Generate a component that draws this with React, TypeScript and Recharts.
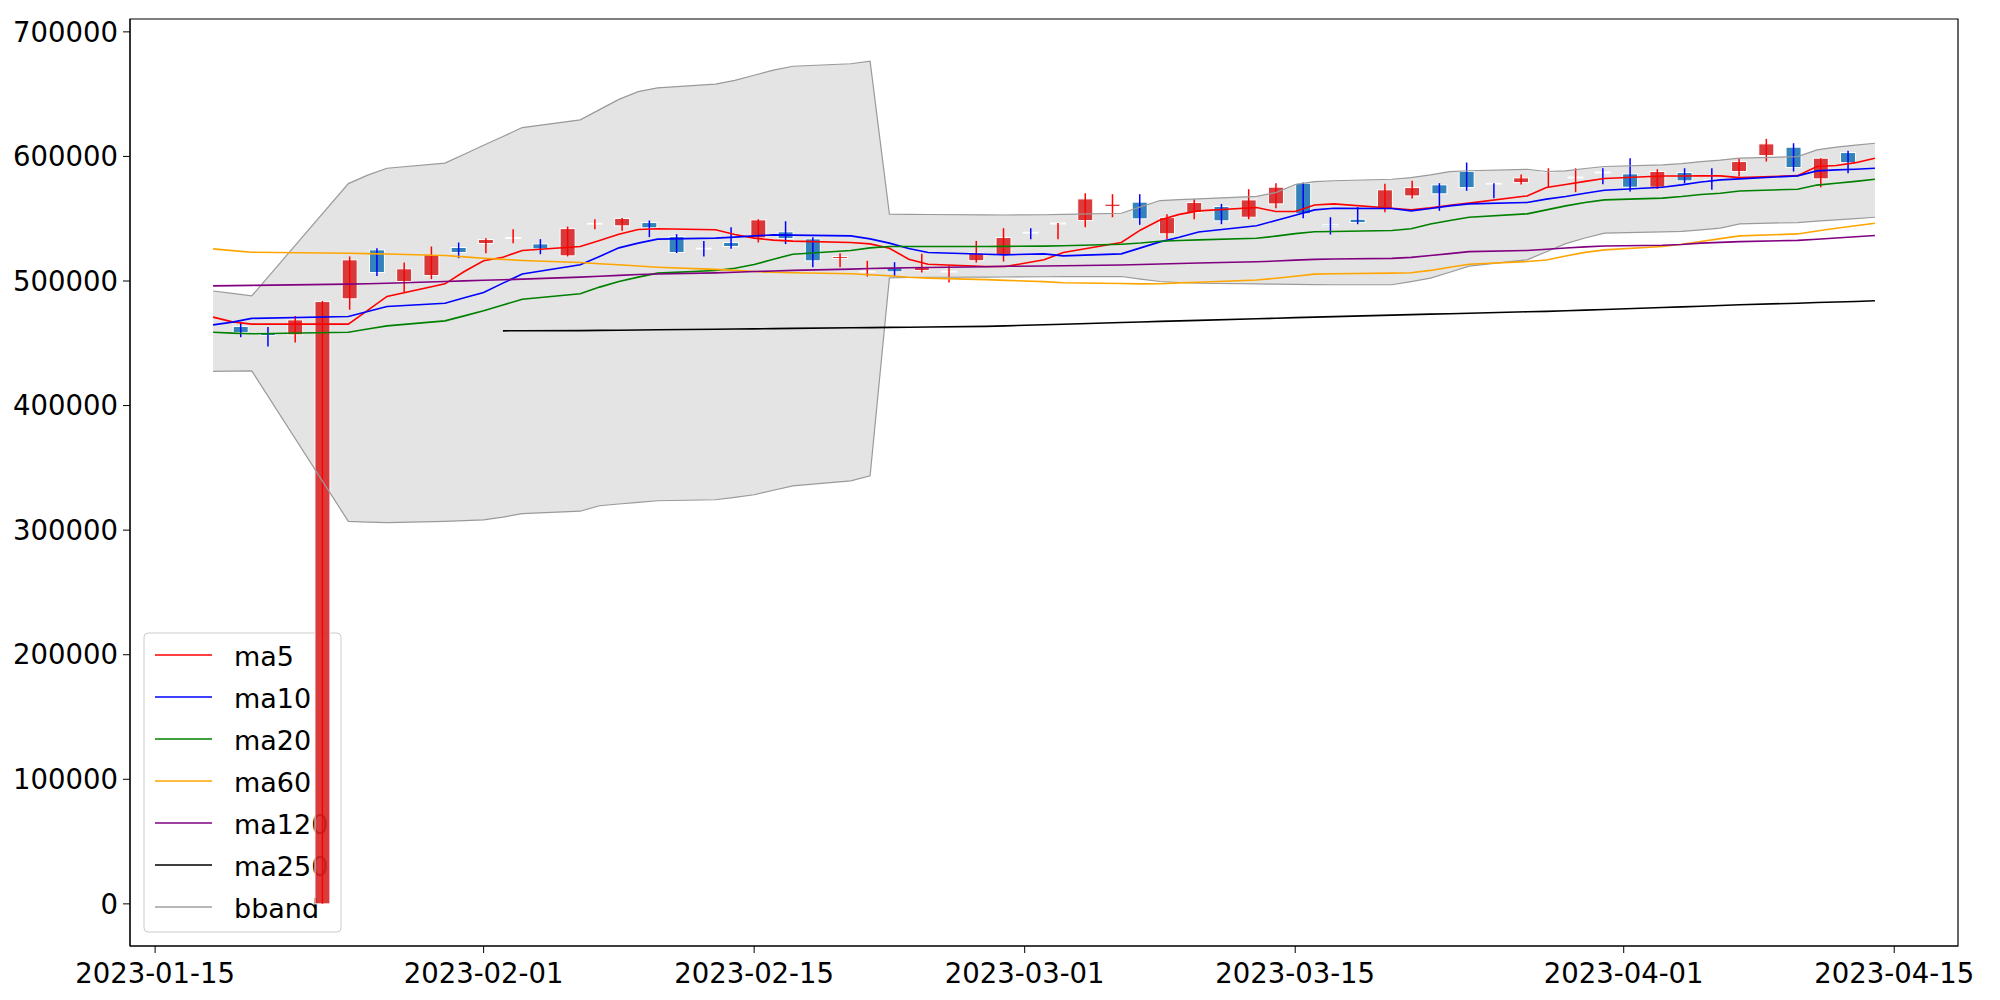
import React from "react";
import { ComposedChart, Line, Area, Bar, XAxis, YAxis, Customized, ReferenceArea } from "recharts";

// trading days (KRX calendar, Seollal + Mar 1 closed)
const tradeDates = [
  "2023-01-18", "2023-01-19", "2023-01-20", "2023-01-25", "2023-01-26", "2023-01-27", "2023-01-30", "2023-01-31",
  "2023-02-01", "2023-02-02", "2023-02-03", "2023-02-06", "2023-02-07", "2023-02-08", "2023-02-09", "2023-02-10",
  "2023-02-13", "2023-02-14", "2023-02-15", "2023-02-16", "2023-02-17", "2023-02-20", "2023-02-21", "2023-02-22",
  "2023-02-23", "2023-02-24", "2023-02-27", "2023-02-28", "2023-03-02", "2023-03-03", "2023-03-06", "2023-03-07",
  "2023-03-08", "2023-03-09", "2023-03-10", "2023-03-13", "2023-03-14", "2023-03-15", "2023-03-16", "2023-03-17",
  "2023-03-20", "2023-03-21", "2023-03-22", "2023-03-23", "2023-03-24", "2023-03-27", "2023-03-28", "2023-03-29",
  "2023-03-30", "2023-03-31", "2023-04-03", "2023-04-04", "2023-04-05", "2023-04-06", "2023-04-07", "2023-04-10",
  "2023-04-11", "2023-04-12", "2023-04-13", "2023-04-14",
];

const opens = [
  463500, 458100, 456800, 0, 485700, 525000, 499600, 504400, 526900, 530100, 534300, 529800, 520200, 545800, 544300,
  546900, 535700, 526300, 530900, 534600, 539500, 533800, 518100, 507400, 510600, 508400, 507400, 516300, 520500,
  539100, 546200, 548500, 559800, 563300, 537900, 555000, 559800, 551200, 561900, 578500, 545300, 549600, 558200,
  568300, 577200, 587900, 578400, 579000, 587900, 583100, 587500, 586000, 575300, 587100, 581400, 587900, 600700,
  607400, 582000, 603100,
];
const highs = [
  466700, 463000, 472000, 484000, 519700, 526300, 514800, 527700, 530900, 534400, 541600, 533600, 543700, 549600, 550500,
  548600, 537600, 532200, 543200, 549600, 548000, 535200, 522300, 516200, 515100, 521800, 512200, 532200, 542400,
  542400, 546600, 570500, 569700, 569700, 553600, 565700, 561900, 573700, 578500, 579000, 551200, 559300, 578000,
  580400, 578500, 595100, 578400, 585500, 590500, 590500, 590500, 598600, 589700, 590500, 590500, 598600, 614100,
  610600, 598600, 604600,
];
const lows = [
  454900, 447500, 450700, 0, 476900, 504100, 490800, 501500, 518300, 522300, 530400, 521500, 519700, 541600, 540300,
  535200, 522500, 519700, 525800, 530900, 529600, 511100, 511100, 503600, 503600, 506800, 498800, 514800, 515600,
  533600, 533600, 543200, 551200, 545100, 533800, 549600, 545600, 549600, 558400, 550400, 537300, 545600, 555200,
  566200, 556300, 572400, 566500, 577400, 575300, 571300, 577700, 571800, 573900, 578500, 573200, 583900, 595900,
  587900, 575300, 586500,
];
const closes = [
  458700, 456200, 468800, 483500, 517000, 506800, 509800, 521000, 522900, 533300, 534900, 525800, 542100, 546300, 550200,
  542700, 522900, 526000, 527700, 549100, 534100, 516200, 519700, 507800, 507400, 510800, 507800, 522400, 534900,
  538700, 546600, 565900, 561700, 549900, 550900, 563000, 548300, 565100, 575300, 553900, 544300, 546900, 573200,
  575000, 570000, 575000, 578000, 582800, 588300, 583500, 587100, 575300, 587900, 580400, 581000, 595900, 610100,
  591100, 598600, 595000,
];

const ma5 = [
  471000, 467200, 465400, 465400, 476500, 487600, 497700, 507600, 516200, 519100, 524500, 527700, 532500, 537600, 541400,
  541900, 541100, 537300, 534400, 532800, 532000, 530900, 529800, 526300, 517500, 513500, 511600, 511600, 517000,
  522900, 530900, 541000, 549000, 553500, 556300, 559000, 555800, 555800, 561000, 561900, 558400, 557100, 558700,
  560800, 562500, 568300, 575000, 577500, 580000, 582300, 584300, 584300, 584400, 584400, 583000, 584600, 591900,
  592700, 595000, 598600,
];
const ma10 = [
  464800, 467000, 470000, 471500, 475500, 479500, 482200, 486500, 490800, 498300, 505600, 513000, 519700, 526600, 530400,
  533600, 534400, 535200, 536200, 537000, 536800, 536200, 533800, 530400, 526100, 522900, 521500, 521000, 521800,
  520200, 521800, 526600, 531400, 535200, 539400, 544300, 548600, 552800, 557100, 558400, 558200, 556300, 558200,
  560300, 561900, 563000, 565700, 567800, 570500, 572900, 575300, 577200, 579500, 581200, 582000, 584400, 588400,
  589200, 589700, 590500,
];
const ma20 = [
  458900, 458200, 457600, 458900, 461500, 464000, 468000, 472000, 476100, 480700, 485400, 489700, 495100, 499600, 503100,
  506300, 508400, 510300, 513200, 517500, 521500, 524500, 526600, 527700, 527700, 527700, 527700, 527800, 528000,
  528300, 529500, 530500, 531900, 532500, 533000, 534300, 536000, 538000, 539500, 539700, 540500, 542000, 545800,
  548600, 551200, 553900, 557100, 560300, 563000, 565100, 566500, 567800, 569500, 570500, 572300, 573700, 577000,
  578500, 580000, 581700,
];
const ma60 = [
  525800, 524400, 523100, 522300, 522000, 521700, 520500, 519400, 518300, 517400, 516500, 514800, 513800, 513000, 512000,
  511100, 509300, 508500, 507600, 507000, 506600, 505800, 505000, 504200, 503000, 502300, 501100, 500500, 499500,
  498600, 498000, 497700, 497800, 498500, 499000, 500800, 502200, 503800, 505500, 505800, 506300, 506600, 508500,
  511000, 513500, 515600, 516800, 520000, 523000, 525000, 527700, 529500, 531700, 534000, 536200, 537800, 540200,
  542300, 544300, 546400,
];
const ma120 = [
  496100, 496300, 496500, 497500, 497800, 498200, 499600, 500100, 500600, 501000, 501500, 503100, 503800, 504500, 505200,
  505600, 506500, 507000, 507600, 508000, 508500, 509500, 510000, 510300, 510600, 510900, 511500, 511800, 512000,
  512300, 512900, 513200, 513600, 514000, 514500, 515400, 516000, 516800, 517400, 517700, 518200, 519000, 520500,
  522000, 523600, 524500, 525500, 526500, 527400, 528100, 528700, 529300, 530400, 531000, 531600, 532600, 533500,
  534500, 535500, 536500,
];
const ma250 = [
  null, null, null, null, null, null, null, null, null, 460000, 460050, 460200, 460350, 460500, 460700,
  460850, 461300, 461500, 461600, 461800, 462000, 462500, 462600, 462800, 462900, 463100, 463600, 464000, 464900,
  465300, 466700, 467100, 467600, 468000, 468400, 469700, 470100, 470600, 471000, 471400, 472600, 473000, 473400,
  473700, 474100, 475300, 475600, 476100, 476600, 477100, 478700, 479200, 479700, 480300, 480900, 482200, 482700,
  483200, 483600, 484100,
];
const bbUpper = [
  492000, 490000, 488000, 578200, 585000, 590500, 594600, 601800, 609000, 616000, 623200, 629400, 637600, 645800, 652000,
  655000, 658000, 661000, 665200, 669300, 672400, 674400, 676500, 553700, 553500, 553400, 553100, 553000, 553200,
  553500, 554400, 559500, 564600, 565300, 566000, 568000, 571000, 577500, 579800, 580500, 581700, 583000, 585200,
  587800, 588500, 589700, 587900, 588400, 590300, 591900, 593200, 594300, 595900, 597000, 598600, 599900, 605300,
  607500, 609100, 610600,
];
const bbLower = [
  427500, 427700, 427900, 307000, 306500, 306000, 307000, 307600, 308200, 310500, 313200, 315200, 319600, 321000, 322300,
  323600, 324400, 326300, 328400, 332000, 335600, 339600, 343700, 502500, 502800, 503000, 503100, 503200, 503400,
  503500, 503600, 501500, 499600, 498800, 498200, 497700, 497500, 497300, 497100, 497000, 497000, 499500, 502300,
  507000, 512000, 517000, 523500, 530000, 534500, 538400, 539500, 539800, 541000, 542400, 545900, 546900, 548000,
  549000, 550100, 551200,
];

const xTickDates = ["2023-01-15", "2023-02-01", "2023-02-15", "2023-03-01", "2023-03-15", "2023-04-01", "2023-04-15"];
const yTicks = [0, 100000, 200000, 300000, 400000, 500000, 600000, 700000];

const legendNames = ["ma5", "ma10", "ma20", "ma60", "ma120", "ma250", "bband"];
const legendColors = ["#ff0000", "#0000ff", "#008000", "#ffa500", "#800080", "#000000", "#a0a0a0"];

const toTs = (s: string) => Date.parse(s + "T00:00:00Z");
const firstTs = toTs(tradeDates[0]);
const lastTs = toTs(tradeDates[tradeDates.length - 1]);
const pad = (lastTs - firstTs) * 0.05;
const xDomain = [firstTs - pad, lastTs + pad];
const yDomain = [-33825, 710325];

// candles were laid out on an even grid between first and last day (endpoints excluded)
const candleStep = (lastTs - firstTs) / (opens.length + 1);

const lineRows = tradeDates.map((d, i) => ({
  x: toTs(d),
  ma5: ma5[i],
  ma10: ma10[i],
  ma20: ma20[i],
  ma60: ma60[i],
  ma120: ma120[i],
  ma250: ma250[i],
  upper: bbUpper[i],
  lower: bbLower[i],
  band: [bbLower[i], bbUpper[i]],
}));

const candleRows = opens.map((o, i) => ({
  cx: firstTs + (i + 1) * candleStep,
  open: o,
  high: highs[i],
  low: lows[i],
  close: closes[i],
  range: [lows[i], highs[i]],
}));

const FONT = "DejaVu Sans";
const tickStyle = { fill: "#000", fontSize: 27.5, fontFamily: FONT };

const fmtDate = (t: number) => new Date(t).toISOString().slice(0, 10);

const Candle = (props: any) => {
  const { x, y, width, height, payload } = props;
  if (!payload || height == null || isNaN(y)) return null;
  const top = Math.min(y, y + height);
  const h = Math.abs(height);
  const { open, high, low, close } = payload;
  const k = h / (high - low);
  const py = (v: number) => top + (high - v) * k;
  const up = close >= open;
  const mid = x + width / 2;
  const bodyTop = py(Math.max(open, close));
  const bodyH = Math.max(Math.abs(py(open) - py(close)), 1);
  return (
    <g>
      <rect
        x={x + 0.5}
        y={bodyTop}
        width={width - 1}
        height={bodyH}
        fill={up ? "#d62728" : "#1f77b4"}
        fillOpacity={0.9}
        stroke="#ffffff"
        strokeWidth={1}
      />
      <line x1={mid} x2={mid} y1={top} y2={top + h} stroke={up ? "#ff0000" : "#0000ff"} strokeWidth={1.5} />
    </g>
  );
};

const LegendBox = () => (
  <g>
    <rect x={144} y={633} width={197} height={299} rx={4} fill="#ffffff" fillOpacity={0.8} stroke="#cccccc" strokeWidth={1} />
    {legendNames.map((name, i) => (
      <g key={name}>
        <line x1={155} x2={212} y1={655 + i * 42} y2={655 + i * 42} stroke={legendColors[i]} strokeWidth={1.5} />
        <text x={234} y={656 + i * 42} dominantBaseline="central" fontSize={27} fontFamily={FONT} fill="#000">
          {name}
        </text>
      </g>
    ))}
  </g>
);

const maKeys = ["ma5", "ma10", "ma20", "ma60", "ma120", "ma250"];

export default function App() {
  return (
    <div style={{ position: "absolute", left: 0, top: 0, width: 2000, height: 1000, background: "#fff" }}>
      <ComposedChart width={2000} height={1000} data={candleRows} margin={{ top: 19, right: 42, left: 0, bottom: 0 }}>
        <XAxis
          xAxisId="dates"
          dataKey="x"
          type="number"
          domain={xDomain}
          allowDataOverflow
          ticks={xTickDates.map(toTs)}
          tickFormatter={fmtDate}
          tick={tickStyle}
          tickSize={7}
          tickMargin={10}
          height={54}
          stroke="#000"
          interval={0}
        />
        <XAxis xAxisId="candles" dataKey="cx" type="number" domain={xDomain} allowDataOverflow hide height={0} />
        <YAxis
          type="number"
          domain={yDomain}
          allowDataOverflow
          ticks={yTicks}
          tick={tickStyle}
          tickSize={7}
          tickMargin={5}
          width={130}
          stroke="#000"
          interval={0}
        />
        <Area
          xAxisId="dates"
          data={lineRows}
          dataKey="band"
          fill="#e4e4e4"
          fillOpacity={1}
          stroke="none"
          isAnimationActive={false}
        />
        <Line xAxisId="dates" data={lineRows} dataKey="upper" stroke="#9a9a9a" strokeWidth={1.2} dot={false} isAnimationActive={false} />
        <Line xAxisId="dates" data={lineRows} dataKey="lower" stroke="#9a9a9a" strokeWidth={1.2} dot={false} isAnimationActive={false} />
        {maKeys.map((k, i) => (
          <Line
            key={k}
            xAxisId="dates"
            data={lineRows}
            dataKey={k}
            stroke={legendColors[i]}
            strokeWidth={1.6}
            dot={false}
            isAnimationActive={false}
          />
        ))}
        <Customized component={LegendBox} />
        <Bar xAxisId="candles" dataKey="range" barSize={16} shape={<Candle />} isAnimationActive={false} />
        <ReferenceArea
          xAxisId="dates"
          x1={xDomain[0]}
          x2={xDomain[1]}
          y1={yDomain[0]}
          y2={yDomain[1]}
          fill="none"
          stroke="#000"
          strokeWidth={1.2}
          ifOverflow="visible"
        />
      </ComposedChart>
    </div>
  );
}
